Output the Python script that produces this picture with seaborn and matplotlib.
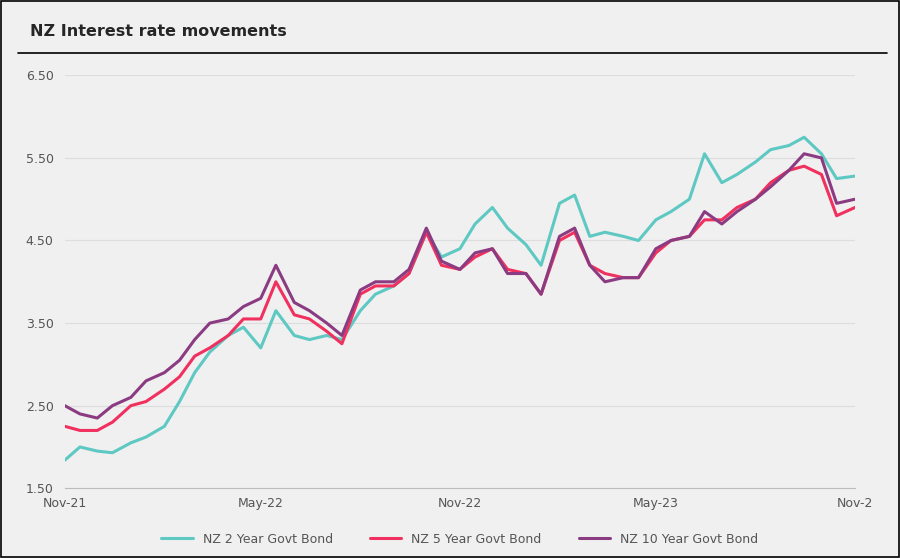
import pandas as pd
import numpy as np
import seaborn as sns
from matplotlib import pyplot as plt

# semi-monthly readings, Nov-21 .. Nov-23
dates = pd.date_range("2021-11-01", "2023-11-01", freq="SMS")[:49]

nz2 = [1.84, 2.0, 1.95, 1.93, 2.05, 2.12, 2.25, 2.55, 2.9, 3.15, 3.35, 3.45, 3.2,
       3.65, 3.35, 3.3, 3.35, 3.3, 3.65, 3.85, 3.95, 4.1, 4.6, 4.3, 4.4, 4.7, 4.9,
       4.65, 4.45, 4.2, 4.95, 5.05, 4.55, 4.6, 4.55, 4.5, 4.75, 4.85, 5.0, 5.55,
       5.2, 5.3, 5.45, 5.6, 5.65, 5.75, 5.55, 5.25, 5.28]
nz5 = [2.25, 2.2, 2.2, 2.3, 2.5, 2.55, 2.7, 2.85, 3.1, 3.2, 3.35, 3.55, 3.55,
       4.0, 3.6, 3.55, 3.4, 3.25, 3.85, 3.95, 3.95, 4.1, 4.6, 4.2, 4.15, 4.3, 4.4,
       4.15, 4.1, 3.85, 4.5, 4.6, 4.2, 4.1, 4.05, 4.05, 4.35, 4.5, 4.55, 4.75,
       4.75, 4.9, 5.0, 5.2, 5.35, 5.4, 5.3, 4.8, 4.9]
nz10 = [2.5, 2.4, 2.35, 2.5, 2.6, 2.8, 2.9, 3.05, 3.3, 3.5, 3.55, 3.7, 3.8,
        4.2, 3.75, 3.65, 3.5, 3.35, 3.9, 4.0, 4.0, 4.15, 4.65, 4.25, 4.15, 4.35,
        4.4, 4.1, 4.1, 3.85, 4.55, 4.65, 4.2, 4.0, 4.05, 4.05, 4.4, 4.5, 4.55,
        4.85, 4.7, 4.85, 5.0, 5.15, 5.35, 5.55, 5.5, 4.95, 5.0]

series = ["NZ 2 Year Govt Bond", "NZ 5 Year Govt Bond", "NZ 10 Year Govt Bond"]
colors = ["#5ec8c3", "#f0315f", "#8b3b82"]
tick_dates = pd.to_datetime(["2021-11-01", "2022-05-01", "2022-11-01", "2023-05-01", "2023-11-01"])
tick_labels = ["Nov-21", "May-22", "Nov-22", "May-23", "Nov-2"]

df = pd.DataFrame({"date": np.tile(dates, 3),
                   "rate": nz2 + nz5 + nz10,
                   "series": np.repeat(series, len(dates))})

sns.set_style("white")
bg = "#f0f0f0"
fig = plt.figure(figsize=(9, 5.58), dpi=100, facecolor=bg)
ax = fig.add_axes([0.072, 0.125, 0.878, 0.74], facecolor=bg)

sns.lineplot(data=df, x="date", y="rate", hue="series", palette=colors,
             linewidth=2.2, ax=ax)

ax.set_ylim(1.5, 6.5)
ax.set_yticks([1.5, 2.5, 3.5, 4.5, 5.5, 6.5])
ax.set_yticklabels(["1.50", "2.50", "3.50", "4.50", "5.50", "6.50"])
ax.set_xlim(tick_dates[0], tick_dates[-1])
ax.set_xticks(tick_dates)
ax.set_xticklabels(tick_labels)
ax.tick_params(colors="#555555", labelsize=9, length=0)
ax.tick_params(axis="y", pad=8)
ax.tick_params(axis="x", pad=6)
ax.grid(axis="y", color="#dddddd", linewidth=0.8)
for s in ["top", "right", "left"]:
    ax.spines[s].set_visible(False)
ax.spines["bottom"].set_color("#bbbbbb")
ax.set_xlabel("")
ax.set_ylabel("")

ax.legend(loc="upper center", bbox_to_anchor=(0.5, -0.08), ncol=3, frameon=False,
          fontsize=9, labelcolor="#555555", handlelength=2.5, columnspacing=3)

fig.text(0.033, 0.935, "NZ Interest rate movements", fontsize=11.5, fontweight="bold")
fig.add_artist(plt.Line2D([0.02, 0.985], [0.905, 0.905], color="black", linewidth=1.2))
fig.patches.append(plt.Rectangle((0.001, 0.001), 0.998, 0.997, transform=fig.transFigure,
                                 fill=False, edgecolor="black", linewidth=1.2))

plt.savefig("out.png", facecolor=bg)
